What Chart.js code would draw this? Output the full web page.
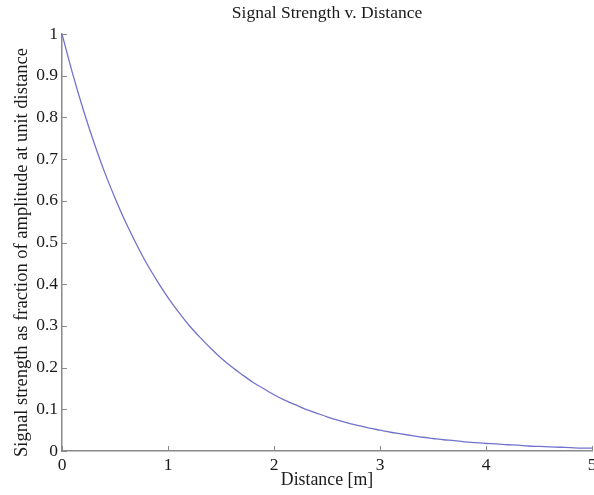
<!DOCTYPE html>
<html>
<head>
<meta charset="utf-8">
<script src="https://cdn.jsdelivr.net/npm/chart.js@4"></script>
<style>
html,body{margin:0;padding:0;background:#fff;}
#wrap{width:594px;height:495px;}
</style>
</head>
<body>
<div id="wrap"><canvas id="c" width="594" height="495"></canvas></div>
<script>
// Distance [m]
const distances = [0.0,0.1,0.2,0.3,0.4,0.5,0.6,0.7,0.8,0.9,1.0,1.1,1.2,1.3,1.4,1.5,1.6,1.7,1.8,1.9,2.0,2.1,2.2,2.3,2.4,2.5,2.6,2.7,2.8,2.9,3.0,3.1,3.2,3.3,3.4,3.5,3.6,3.7,3.8,3.9,4.0,4.1,4.2,4.3,4.4,4.5,4.6,4.7,4.8,4.9,5.0];
// Signal strength
const strengths = [1.000,0.905,0.819,0.741,0.670,0.607,0.549,0.497,0.449,0.407,0.368,0.333,0.301,0.273,0.247,0.223,0.202,0.183,0.165,0.150,0.135,0.122,0.111,0.100,0.091,0.082,0.074,0.067,0.061,0.055,0.050,0.045,0.041,0.037,0.033,0.030,0.027,0.025,0.022,0.020,0.018,0.017,0.015,0.014,0.012,0.011,0.010,0.009,0.008,0.007,0.007];
const xTicks = [0,1,2,3,4,5];
const yTicks = [0,0.1,0.2,0.3,0.4,0.5,0.6,0.7,0.8,0.9,1];
const yLabel = 'Signal strength as fraction of amplitude at unit distance';

const FONT = "'Liberation Serif','Times New Roman',serif";
const AXIS = '#8a8a8a';
const TXT = '#1a1a1a';

const innerTicks = {
  id: 'innerTicks',
  afterDraw(chart) {
    const {ctx, chartArea} = chart;
    const xs = chart.scales.x, ys = chart.scales.y;
    ctx.save();
    ctx.strokeStyle = AXIS;
    ctx.lineWidth = 1;
    const len = 5;
    xTicks.forEach(v => {
      const px = Math.round(xs.getPixelForValue(v)) + 0.5;
      ctx.beginPath(); ctx.moveTo(px, chartArea.bottom); ctx.lineTo(px, chartArea.bottom - len); ctx.stroke();
    });
    yTicks.forEach(v => {
      const py = Math.round(ys.getPixelForValue(v)) + 0.5;
      ctx.beginPath(); ctx.moveTo(chartArea.left, py); ctx.lineTo(chartArea.left + len, py); ctx.stroke();
    });
    // y-axis title, centred slightly below the plot middle as in the reference
    ctx.translate(22, (chartArea.top + chartArea.bottom) / 2 + 10);
    ctx.rotate(-Math.PI / 2);
    ctx.fillStyle = TXT;
    ctx.font = "18.5px " + FONT;
    ctx.textAlign = 'center';
    ctx.textBaseline = 'middle';
    ctx.fillText(yLabel, 0, 0);
    ctx.restore();
  }
};

new Chart(document.getElementById('c'), {
  type: 'line',
  data: {
    datasets: [{
      label: 'Signal strength',
      data: distances.map((d, i) => ({x: d, y: strengths[i]})),
      borderColor: '#7272cc',
      borderWidth: 1.3,
      pointRadius: 0,
      tension: 0.3,
      fill: false
    }]
  },
  options: {
    responsive: false,
    animation: false,
    layout: {padding: {left: 0, right: 2, top: 0, bottom: 0}},
    plugins: {
      legend: {display: false},
      tooltip: {enabled: false},
      title: {
        display: true,
        fullSize: false,
        text: 'Signal Strength v. Distance',
        color: TXT,
        font: {family: FONT, size: 17.5, weight: 'normal'},
        padding: {top: 3, bottom: 10}
      }
    },
    scales: {
      x: {
        type: 'linear',
        min: 0, max: 5,
        afterBuildTicks(s) { s.ticks = xTicks.map(v => ({value: v})); },
        afterFit(s) { s.height = 44; s.paddingLeft = 0; s.paddingRight = 0; },
        grid: {display: false, drawTicks: false},
        border: {display: true, color: AXIS, width: 1.5},
        ticks: {
          color: TXT, padding: 4,
          font: {family: FONT, size: 17.5},
          maxRotation: 0,
          callback: v => String(v)
        },
        title: {
          display: true, text: 'Distance [m]', color: TXT,
          font: {family: FONT, size: 17.8},
          padding: {top: 0, bottom: 4}
        }
      },
      y: {
        type: 'linear',
        min: 0, max: 1,
        afterBuildTicks(s) { s.ticks = yTicks.map(v => ({value: v})); },
        afterFit(s) { s.width = 62; s.paddingTop = 0; s.paddingBottom = 0; },
        grid: {display: false, drawTicks: false},
        border: {display: true, color: AXIS, width: 1.5},
        ticks: {
          color: TXT, padding: 4,
          font: {family: FONT, size: 17.5},
          callback: v => String(Math.round(v * 10) / 10)
        },
        title: {display: false}
      }
    }
  },
  plugins: [innerTicks]
});
</script>
</body>
</html>
